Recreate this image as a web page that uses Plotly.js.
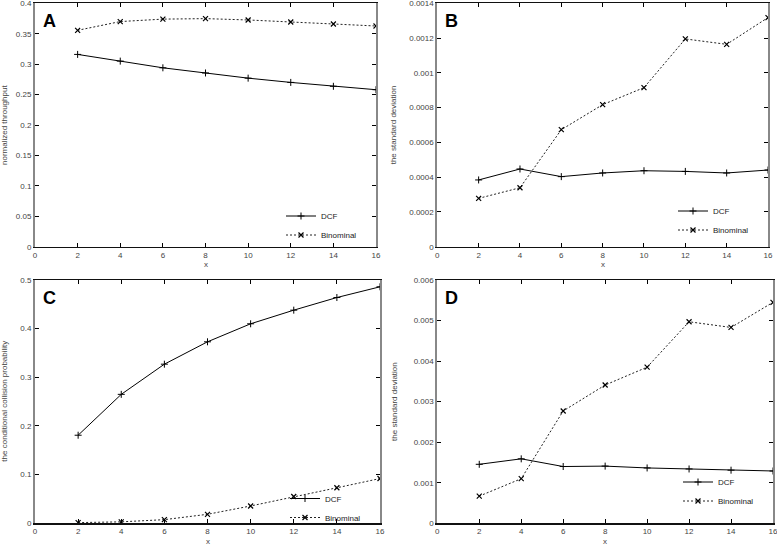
<!DOCTYPE html>
<html>
<head>
<meta charset="utf-8">
<script src="https://cdn.plot.ly/plotly-3.0.1.min.js"></script>
<style>html,body{margin:0;padding:0;background:#fff;}#chart{width:777px;height:546px;}</style>
</head>
<body>
<div id="chart"></div>
<script>
// ---- data ----
const xVals = [2, 4, 6, 8, 10, 12, 14, 16];
const seriesNames = ["DCF", "Binominal"];
const throughputDCF = [0.316, 0.305, 0.294, 0.2855, 0.277, 0.270, 0.2636, 0.258];
const throughputBin = [0.3556, 0.370, 0.374, 0.3748, 0.3726, 0.3693, 0.366, 0.3627];
const stdDevDCF_B = [0.000384, 0.000447, 0.000403, 0.000424, 0.000437, 0.000433, 0.000424, 0.000441];
const stdDevBin_B = [0.000278, 0.000339, 0.000673, 0.000817, 0.000915, 0.001195, 0.001164, 0.001318];
const collisionDCF = [0.181, 0.265, 0.327, 0.373, 0.41, 0.438, 0.464, 0.486];
const collisionBin = [0.0014, 0.003, 0.0075, 0.0185, 0.0356, 0.055, 0.073, 0.092];
const stdDevDCF_D = [0.001455, 0.00159, 0.0014, 0.00141, 0.001365, 0.00134, 0.00131, 0.00129];
const stdDevBin_D = [0.00067, 0.0011, 0.00277, 0.00341, 0.00385, 0.00497, 0.00483, 0.00545];
const panelLetters = ["A", "B", "C", "D"];
const yTitles = ["normalized throughput", "the standard deviation", "the conditional collision probability", "the standard deviation"];
const xTitle = "x";
const yRanges = [[0, 0.4], [0, 0.0014], [0, 0.5], [0, 0.006]];
const yDticks = [0.05, 0.0002, 0.1, 0.001];

// ---- layout helpers ----
const W = 777, H = 546;
const px = v => v / W;
const py = v => 1 - v / H;
const panels = [
  {x0: 35, x1: 376, y0: 3.3, y1: 246.7, titleOff: 30, legTop: 201.5},
  {x0: 437.3, x1: 768, y0: 3.3, y1: 246.7, titleOff: 43, legTop: 196.5},
  {x0: 35, x1: 380, y0: 280, y1: 523.3, titleOff: 30, legTop: 484},
  {x0: 437.3, x1: 773, y0: 280, y1: 523.3, titleOff: 43, legTop: 467.5}
];
const dataSets = [
  [throughputDCF, throughputBin],
  [stdDevDCF_B, stdDevBin_B],
  [collisionDCF, collisionBin],
  [stdDevDCF_D, stdDevBin_D]
];
const FONT = "Liberation Sans, Arial, sans-serif";
const tickFont = {family: FONT, size: 8, color: "#444"};

const traces = [];
const layout = {
  width: W, height: H,
  margin: {l: 0, r: 0, t: 0, b: 0},
  paper_bgcolor: "#fff", plot_bgcolor: "#fff",
  showlegend: true,
  annotations: []
};

panels.forEach((p, i) => {
  const n = i + 1;
  const xa = n === 1 ? "x" : "x" + n;
  const ya = n === 1 ? "y" : "y" + n;
  const lg = n === 1 ? "legend" : "legend" + n;
  const [dcf, bin] = dataSets[i];
  traces.push({
    x: xVals, y: dcf, xaxis: xa, yaxis: ya, legend: lg,
    name: seriesNames[0], type: "scatter", mode: "lines+markers",
    line: {color: "#000", width: 1},
    marker: {symbol: "cross-thin-open", size: 5, color: "#000", line: {color: "#000", width: 1}}
  });
  traces.push({
    x: xVals, y: bin, xaxis: xa, yaxis: ya, legend: lg,
    name: seriesNames[1], type: "scatter", mode: "lines+markers",
    line: {color: "#222", width: 1, dash: "2px,2px"},
    marker: {symbol: "x-thin-open", size: 5, color: "#000", line: {color: "#000", width: 1.2}}
  });
  layout["xaxis" + (n === 1 ? "" : n)] = {
    domain: [px(p.x0), px(p.x1)], anchor: ya,
    range: [0, 16], dtick: 2, tick0: 0,
    showgrid: false, zeroline: false,
    showline: true, linecolor: "#111", linewidth: 1.5, mirror: "allticks",
    ticks: "inside", ticklen: 4, tickcolor: "#000", tickwidth: 1,
    tickfont: tickFont, ticklabeloverflow: "allow", fixedrange: true
  };
  layout["yaxis" + (n === 1 ? "" : n)] = {
    domain: [py(p.y1), py(p.y0)], anchor: xa,
    range: [yRanges[i][0], yRanges[i][1] * 1.000001], dtick: yDticks[i], tick0: 0,
    showgrid: false, zeroline: false,
    showline: true, linecolor: "#888", linewidth: 2, mirror: "allticks",
    ticks: "inside", ticklen: 4, tickcolor: "#000", tickwidth: 1,
    tickfont: tickFont, ticklabeloverflow: "allow", exponentformat: "none", fixedrange: true
  };
  layout[lg] = {
    x: px(p.x1 - 14), xanchor: "right",
    y: py(p.legTop), yanchor: "top",
    bgcolor: "rgba(0,0,0,0)", borderwidth: 0,
    font: {family: FONT, size: 8, color: "#222"},
    tracegroupgap: 0, itemwidth: 30
  };
  // panel letter
  layout.annotations.push({
    xref: "paper", yref: "paper", x: px(p.x0 + 6), y: py(p.y0 + 6),
    xanchor: "left", yanchor: "top", showarrow: false,
    text: "<b>" + panelLetters[i] + "</b>",
    font: {family: FONT, size: 18, color: "#000"}
  });
  // y title
  layout.annotations.push({
    xref: "paper", yref: "paper", x: px(p.x0 - p.titleOff), y: py((p.y0 + p.y1) / 2),
    xanchor: "center", yanchor: "middle", showarrow: false, textangle: -90,
    text: yTitles[i],
    font: {family: FONT, size: 8, color: "#444"}
  });
  // x title
  layout.annotations.push({
    xref: "paper", yref: "paper", x: px((p.x0 + p.x1) / 2), y: py(p.y1 + 18),
    xanchor: "center", yanchor: "middle", showarrow: false,
    text: xTitle,
    font: {family: FONT, size: 8, color: "#444"}
  });
});

Plotly.newPlot("chart", traces, layout, {displayModeBar: false, staticPlot: true});
</script>
</body>
</html>
